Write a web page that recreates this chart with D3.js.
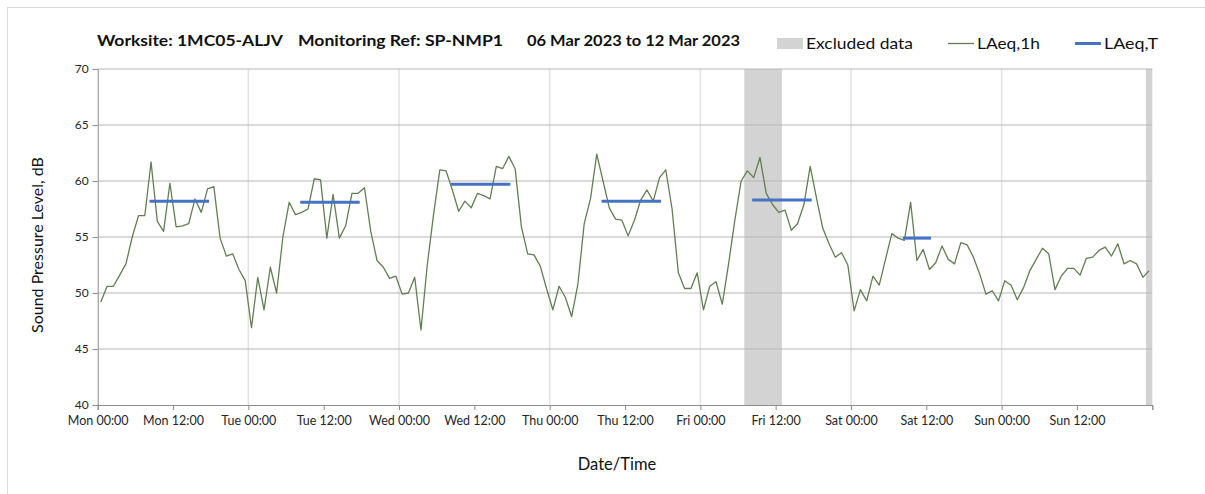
<!DOCTYPE html>
<html><head><meta charset="utf-8">
<script src="https://cdn.jsdelivr.net/npm/d3@7"></script>
<style>body{margin:0;background:#fff}svg{display:block}text{font-family:Lato,"Open Sans",sans-serif}</style>
</head><body>
<svg id="chart" width="1205" height="494"></svg>
<script>
// Hourly LAeq,1h values, hour 0 = Mon 00:00 (plotted at the hour's midpoint)
const laeq1h = [
 49.2,50.6,50.6,51.6,52.6,55.0,56.9,56.9,61.7,56.4,55.5,59.8,55.9,56.0,56.2,58.4,57.2,59.3,59.5,54.9,53.3,53.5,52.1,51.1,
 46.9,51.4,48.5,52.3,50.0,55.0,58.1,57.0,57.2,57.5,60.2,60.1,54.9,58.8,54.9,56.0,58.9,58.9,59.4,55.5,52.9,52.3,51.3,51.5,
 49.9,50.0,51.4,46.7,52.5,57.0,61.0,60.9,59.2,57.3,58.2,57.6,58.9,58.7,58.4,61.3,61.1,62.2,61.1,55.9,53.5,53.4,52.4,50.4,
 48.5,50.6,49.6,47.9,50.8,56.2,58.4,62.4,60.0,57.6,56.6,56.5,55.1,56.5,58.3,59.2,58.2,60.3,61.0,57.5,51.8,50.4,50.4,51.8,
 48.5,50.6,51.0,49.0,52.6,56.5,60.0,60.9,60.3,62.1,58.9,57.9,57.2,57.4,55.6,56.2,57.9,61.3,58.5,55.8,54.4,53.2,53.6,52.5,
 48.4,50.3,49.3,51.5,50.7,53.0,55.3,54.9,54.7,58.1,52.9,53.9,52.1,52.7,54.2,53.0,52.6,54.5,54.3,53.2,51.7,49.9,50.2,49.3,
 51.1,50.7,49.4,50.5,52.0,53.0,54.0,53.5,50.3,51.5,52.2,52.2,51.6,53.1,53.2,53.8,54.1,53.3,54.4,52.6,52.9,52.6,51.4,52.0
];
// LAeq,T periods (first/last hour index) and values
const periodStart = [8, 32, 56, 80, 104, 128];
const periodEnd   = [17, 41, 65, 89, 113, 132];
const periodValue = [58.2, 58.1, 59.7, 58.2, 58.3, 54.9];
// Excluded data intervals (hours from Mon 00:00)
const excludedStart = [103, 167];
const excludedEnd   = [109, 168];
// Axis ticks
const xTickHours  = [0,12,24,36,48,60,72,84,96,108,120,132,144,156,168];
const xTickLabels = ["Mon 00:00","Mon 12:00","Tue 00:00","Tue 12:00","Wed 00:00","Wed 12:00","Thu 00:00","Thu 12:00","Fri 00:00","Fri 12:00","Sat 00:00","Sat 12:00","Sun 00:00","Sun 12:00",""];
const yTicks = [40,45,50,55,60,65,70];

const svg = d3.select("#chart");
const x = d3.scaleLinear().domain([0,168]).range([97.7,1152.3]);
const y = d3.scaleLinear().domain([40,70]).range([405,69]);

// outer border
svg.append("rect").attr("x",7.5).attr("y",7.5).attr("width",1210).attr("height",500)
  .attr("fill","none").attr("stroke","#d9d9d9");

// excluded bands
const ex = excludedStart.map((s,i)=>({s, e: excludedEnd[i]}));
svg.append("g").selectAll("rect").data(ex).join("rect")
  .attr("x",d=>x(d.s)).attr("width",d=>x(d.e)-x(d.s))
  .attr("y",y(70)).attr("height",y(40)-y(70)).attr("fill","#d3d3d3");

// vertical day gridlines
svg.append("g").selectAll("line").data(xTickHours.filter(h=>h%24===0 && h>0 && h<168)).join("line")
  .attr("x1",d=>x(d)).attr("x2",d=>x(d)).attr("y1",y(70)).attr("y2",y(40))
  .attr("stroke","#e2e2e2").attr("stroke-width",1.5);

// horizontal gridlines
svg.append("g").selectAll("line").data(yTicks.filter(v=>v>40)).join("line")
  .attr("x1",x(0)).attr("x2",x(168)).attr("y1",d=>y(d)).attr("y2",d=>y(d))
  .attr("stroke","#b5b5b5").attr("stroke-width",1);

// axes
const xAxis = d3.axisBottom(x).tickValues(xTickHours).tickFormat((d,i)=>xTickLabels[i]).tickSize(5).tickPadding(6);
const gx = svg.append("g").attr("transform",`translate(0,${y(40)})`).call(xAxis);
gx.select(".domain").attr("stroke","#8c8c8c");
gx.selectAll(".tick line").attr("stroke","#8c8c8c");
gx.selectAll("text").attr("font-size","12.5px").attr("fill","#262626").attr("font-family","Lato");

const yAxis = d3.axisLeft(y).tickValues(yTicks).tickSize(5).tickPadding(4);
const gy = svg.append("g").attr("transform",`translate(${x(0)},0)`).call(yAxis);
gy.select(".domain").attr("stroke","#8c8c8c");
gy.selectAll(".tick line").attr("stroke","#8c8c8c");
gy.selectAll("text").attr("font-size","12px").attr("fill","#262626").attr("font-family","Lato");

// LAeq,1h line
const line = d3.line().x((d,i)=>x(i+0.5)).y(d=>y(d));
svg.append("path").datum(laeq1h).attr("d",line)
  .attr("fill","none").attr("stroke","#627f52").attr("stroke-width",1.3).attr("stroke-linejoin","round");

// LAeq,T segments
const per = periodStart.map((s,i)=>({s, e: periodEnd[i], v: periodValue[i]}));
svg.append("g").selectAll("line").data(per).join("line")
  .attr("x1",d=>x(d.s+0.5)).attr("x2",d=>x(d.e+0.5)).attr("y1",d=>y(d.v)).attr("y2",d=>y(d.v))
  .attr("stroke","#4472c4").attr("stroke-width",3).attr("stroke-linecap","square");

// title
const tg = svg.append("g").attr("font-weight","bold").attr("font-size","15px").attr("fill","#111");
tg.append("text").attr("x",97).attr("y",46).text("Worksite: 1MC05-ALJV").attr("textLength",186).attr("lengthAdjust","spacingAndGlyphs");
tg.append("text").attr("x",298).attr("y",46).text("Monitoring Ref: SP-NMP1").attr("textLength",205).attr("lengthAdjust","spacingAndGlyphs");
tg.append("text").attr("x",527).attr("y",46).text("06 Mar 2023 to 12 Mar 2023").attr("textLength",213).attr("lengthAdjust","spacingAndGlyphs");

// legend
const lg = svg.append("g").attr("font-size","16px").attr("fill","#111");
lg.append("rect").attr("x",777).attr("y",38).attr("width",26).attr("height",11).attr("fill","#d3d3d3");
lg.append("text").attr("x",806).attr("y",49).text("Excluded data").attr("textLength",107).attr("lengthAdjust","spacingAndGlyphs");
lg.append("line").attr("x1",948).attr("x2",974).attr("y1",43.5).attr("y2",43.5).attr("stroke","#627f52").attr("stroke-width",1.3);
lg.append("text").attr("x",977).attr("y",49).text("LAeq,1h").attr("textLength",63).attr("lengthAdjust","spacingAndGlyphs");
lg.append("line").attr("x1",1075).attr("x2",1101).attr("y1",43.5).attr("y2",43.5).attr("stroke","#4472c4").attr("stroke-width",3);
lg.append("text").attr("x",1104).attr("y",49).text("LAeq,T").attr("textLength",54).attr("lengthAdjust","spacingAndGlyphs");

// axis titles
svg.append("text").attr("transform","translate(43,245) rotate(-90)").attr("text-anchor","middle")
  .attr("font-size","16px").attr("fill","#111").text("Sound Pressure Level, dB");
svg.append("text").attr("x",617).attr("y",470).attr("text-anchor","middle")
  .attr("font-size","16.5px").attr("fill","#111").text("Date/Time");
</script>
</body></html>
